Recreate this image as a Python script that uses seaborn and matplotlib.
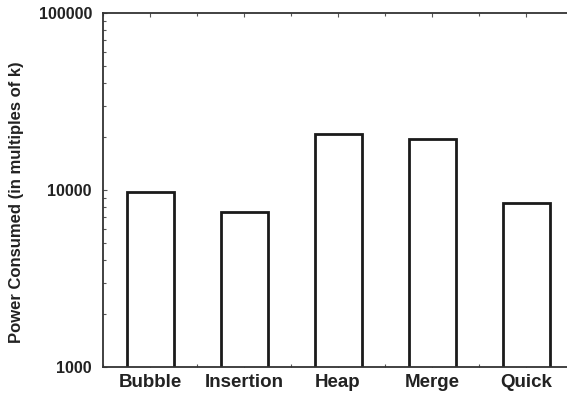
import matplotlib
matplotlib.use("Agg")
import matplotlib.pyplot as plt
import seaborn as sns
from matplotlib.ticker import MultipleLocator, FixedLocator, LogLocator, NullFormatter

categories = ["Bubble", "Insertion", "Heap", "Merge", "Quick"]
power = [9700, 7500, 20700, 19400, 8400]
y_ticks = [1000, 10000, 100000]
y_tick_labels = ["1000", "10000", "100000"]

sns.set_style("ticks")
plt.rcParams['font.family'] = ['Liberation Sans', 'DejaVu Sans']

fig = plt.figure(figsize=(5.67, 3.96), dpi=100)
ax = fig.add_axes([0.1817, 0.0732, 0.8289, 0.8938])

sns.barplot(x=categories, y=power, color="white", edgecolor="#1a1a1a",
            linewidth=2.0, width=0.5, ax=ax, saturation=1)

ax.set_yscale("log")
ax.set_ylim(1000, 100000)
ax.set_xlim(-0.5, 4.5)
ax.yaxis.set_major_locator(FixedLocator(y_ticks))
ax.set_yticklabels(y_tick_labels)
ax.yaxis.set_minor_locator(LogLocator(base=10, subs=range(2, 10)))
ax.yaxis.set_minor_formatter(NullFormatter())
ax.xaxis.set_minor_locator(MultipleLocator(0.5))

for s in ax.spines.values():
    s.set_color("#333333")
    s.set_linewidth(1.3)

ax.tick_params(axis="both", which="both", direction="in", top=True, right=True,
               color="#555555", width=0.8)
ax.tick_params(axis="both", which="major", length=3, pad=5)
ax.tick_params(axis="both", which="minor", length=2.5)
ax.tick_params(axis="y", which="major", pad=8)

for lab in ax.get_yticklabels():
    lab.set_fontweight("bold")
    lab.set_fontsize(11.5)
    lab.set_color("#222222")
for lab in ax.get_xticklabels():
    lab.set_fontweight("bold")
    lab.set_fontsize(13.5)
    lab.set_color("#222222")

ax.set_ylabel("Power Consumed (in multiples of k)", fontsize=12, fontweight="bold",
              color="#222222")
ax.yaxis.set_label_coords(-0.168, 0.465)
ax.set_xlabel("")

fig.savefig("out.png", dpi=100)
